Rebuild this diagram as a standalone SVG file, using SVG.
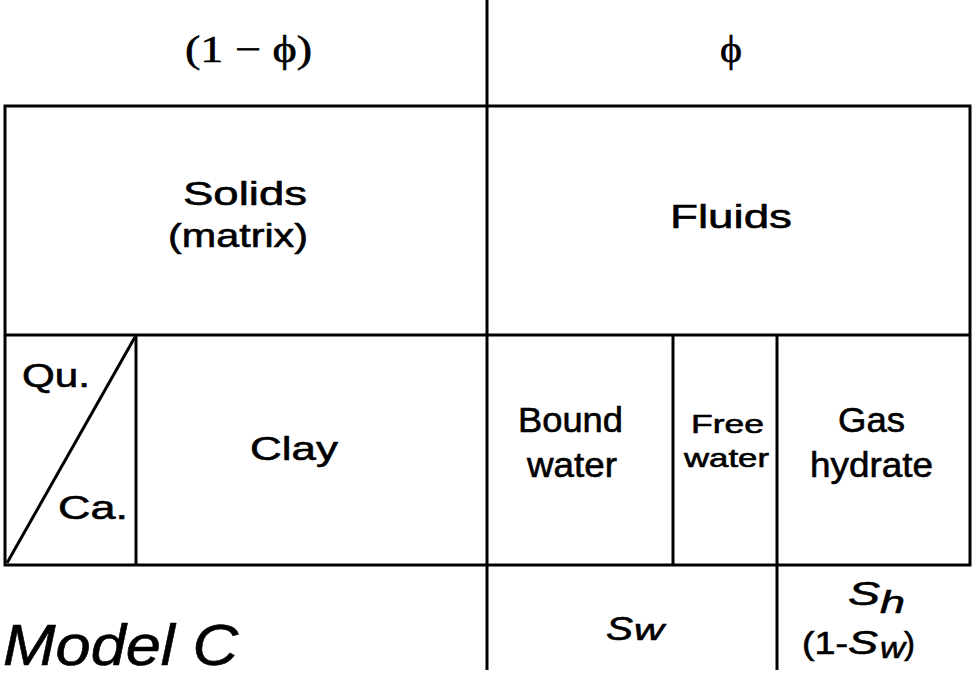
<svg xmlns="http://www.w3.org/2000/svg" width="972" height="677" viewBox="0 0 972 677">
<style>
.ln{stroke:#000;stroke-width:3;fill:none}
.t{font-family:"Liberation Sans",Arial,sans-serif;fill:#000;text-anchor:start;stroke:#000;stroke-width:0.6}
.s{font-family:"Liberation Serif","Times New Roman",serif;fill:#000;text-anchor:start;stroke:#000;stroke-width:0.6}
.i{font-style:italic}
</style>
<rect width="972" height="677" fill="#fff"/>
<g id="connectors">
<line class="ln" x1="487" y1="0" x2="487" y2="670"/>
<line class="ln" x1="777" y1="335" x2="777" y2="670"/>
<line class="ln" x1="673" y1="335" x2="673" y2="565"/>
<line class="ln" x1="136" y1="335" x2="136" y2="565"/>
<line class="ln" x1="7" y1="563" x2="135" y2="337"/>
</g>
<g id="header">
<text class="s" x="185" y="62" font-size="38" textLength="127" lengthAdjust="spacingAndGlyphs">(1 − ϕ)</text>
<text class="s" x="720" y="62" font-size="38" textLength="22" lengthAdjust="spacingAndGlyphs">ϕ</text>
</g>
<g id="frame">
<rect class="ln" x="5" y="106" width="965" height="459"/>
<line class="ln" x1="5" y1="335" x2="970" y2="335"/>
</g>
<g id="solids"><text class="t" x="183" y="205" font-size="34" textLength="124" lengthAdjust="spacingAndGlyphs">Solids</text><text class="t" x="168" y="247" font-size="34" textLength="140" lengthAdjust="spacingAndGlyphs">(matrix)</text></g>
<g id="fluids"><text class="t" x="670" y="228" font-size="34" textLength="122" lengthAdjust="spacingAndGlyphs">Fluids</text></g>
<g id="quca"><text class="t" x="22" y="387" font-size="34" textLength="68" lengthAdjust="spacingAndGlyphs">Qu.</text><text class="t" x="58" y="519" font-size="34" textLength="70" lengthAdjust="spacingAndGlyphs">Ca.</text></g>
<g id="clay"><text class="t" x="250" y="460" font-size="34" textLength="88" lengthAdjust="spacingAndGlyphs">Clay</text></g>
<g id="bound"><text class="t" x="518" y="432" font-size="35" textLength="105" lengthAdjust="spacingAndGlyphs">Bound</text><text class="t" x="527" y="477" font-size="35" textLength="90" lengthAdjust="spacingAndGlyphs">water</text></g>
<g id="free"><text class="t" x="691" y="433" font-size="26" textLength="73" lengthAdjust="spacingAndGlyphs">Free</text><text class="t" x="684" y="467" font-size="26" textLength="85" lengthAdjust="spacingAndGlyphs">water</text></g>
<g id="gas"><text class="t" x="838" y="432" font-size="35" textLength="67" lengthAdjust="spacingAndGlyphs">Gas</text><text class="t" x="810" y="477" font-size="35" textLength="123" lengthAdjust="spacingAndGlyphs">hydrate</text></g>
<g id="sw"><text class="t i" x="606" y="640" font-size="33" textLength="27" lengthAdjust="spacingAndGlyphs">S</text><text class="t i" x="634" y="640" font-size="29" textLength="30" lengthAdjust="spacingAndGlyphs">w</text></g>
<g id="sh"><text class="t i" x="848" y="605" font-size="33" textLength="32" lengthAdjust="spacingAndGlyphs">S</text><text class="t i" x="880" y="613" font-size="31" textLength="25" lengthAdjust="spacingAndGlyphs">h</text>
<text class="t" x="802" y="654" font-size="31" textLength="46" lengthAdjust="spacingAndGlyphs">(1-</text><text class="t i" x="848" y="654" font-size="33" textLength="30" lengthAdjust="spacingAndGlyphs">S</text><text class="t i" x="880" y="658" font-size="29" textLength="25" lengthAdjust="spacingAndGlyphs">w</text><text class="t" x="904" y="654" font-size="31" textLength="11" lengthAdjust="spacingAndGlyphs">)</text></g>
<g id="title"><text class="t i" x="3" y="665" font-size="57" textLength="235" lengthAdjust="spacingAndGlyphs">Model C</text></g>
</svg>
